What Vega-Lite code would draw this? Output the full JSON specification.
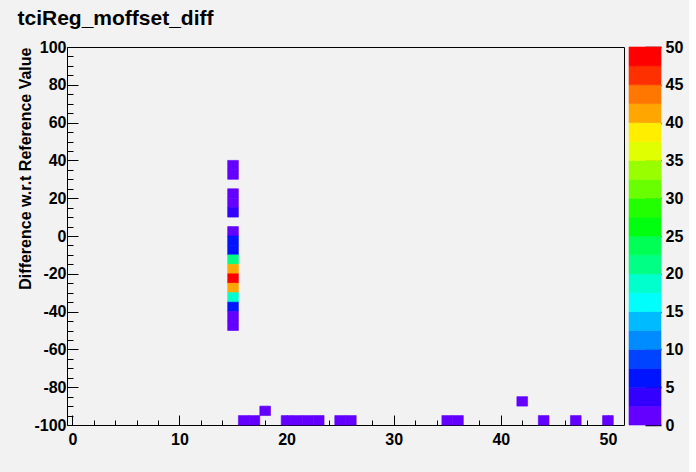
{
  "$schema": "https://vega.github.io/schema/vega-lite/v6.json",
  "background": "#f2f2f2",
  "padding": {"left": 17, "top": 7, "right": 6, "bottom": 25},
  "title": {"text": "tciReg_moffset_diff", "anchor": "start", "font": "Liberation Sans", "fontSize": 21, "fontWeight": "bold", "color": "black", "offset": 10},
  "config": {"view": {"stroke": null}, "font": "Liberation Sans"},
  "spacing": 3,
  "resolve": {"scale": {"y": "independent", "color": "independent", "stroke": "independent"}, "axis": {"y": "independent"}},
  "hconcat": [
    {
      "width": 557,
      "height": 378,
      "view": {"stroke": "black", "strokeWidth": 1},
      "data": {"values": [
        {"xlo": 14.5, "xhi": 15.5, "ylo": 35, "yhi": 40, "z": 1},
        {"xlo": 14.5, "xhi": 15.5, "ylo": 30, "yhi": 35, "z": 1},
        {"xlo": 14.5, "xhi": 15.5, "ylo": 20, "yhi": 25, "z": 1},
        {"xlo": 14.5, "xhi": 15.5, "ylo": 15, "yhi": 20, "z": 1},
        {"xlo": 14.5, "xhi": 15.5, "ylo": 10, "yhi": 15, "z": 3},
        {"xlo": 14.5, "xhi": 15.5, "ylo": 0, "yhi": 5, "z": 1},
        {"xlo": 14.5, "xhi": 15.5, "ylo": -5, "yhi": 0, "z": 6},
        {"xlo": 14.5, "xhi": 15.5, "ylo": -10, "yhi": -5, "z": 6},
        {"xlo": 14.5, "xhi": 15.5, "ylo": -15, "yhi": -10, "z": 21},
        {"xlo": 14.5, "xhi": 15.5, "ylo": -20, "yhi": -15, "z": 41},
        {"xlo": 14.5, "xhi": 15.5, "ylo": -25, "yhi": -20, "z": 49},
        {"xlo": 14.5, "xhi": 15.5, "ylo": -30, "yhi": -25, "z": 41},
        {"xlo": 14.5, "xhi": 15.5, "ylo": -35, "yhi": -30, "z": 19},
        {"xlo": 14.5, "xhi": 15.5, "ylo": -40, "yhi": -35, "z": 6},
        {"xlo": 14.5, "xhi": 15.5, "ylo": -45, "yhi": -40, "z": 1},
        {"xlo": 14.5, "xhi": 15.5, "ylo": -50, "yhi": -45, "z": 1},
        {"xlo": 15.5, "xhi": 16.5, "ylo": -100, "yhi": -95, "z": 1},
        {"xlo": 16.5, "xhi": 17.5, "ylo": -100, "yhi": -95, "z": 1},
        {"xlo": 17.5, "xhi": 18.5, "ylo": -95, "yhi": -90, "z": 1},
        {"xlo": 19.5, "xhi": 20.5, "ylo": -100, "yhi": -95, "z": 1},
        {"xlo": 20.5, "xhi": 21.5, "ylo": -100, "yhi": -95, "z": 1},
        {"xlo": 21.5, "xhi": 22.5, "ylo": -100, "yhi": -95, "z": 1},
        {"xlo": 22.5, "xhi": 23.5, "ylo": -100, "yhi": -95, "z": 1},
        {"xlo": 24.5, "xhi": 25.5, "ylo": -100, "yhi": -95, "z": 1},
        {"xlo": 25.5, "xhi": 26.5, "ylo": -100, "yhi": -95, "z": 1},
        {"xlo": 34.5, "xhi": 35.5, "ylo": -100, "yhi": -95, "z": 1},
        {"xlo": 35.5, "xhi": 36.5, "ylo": -100, "yhi": -95, "z": 1},
        {"xlo": 41.5, "xhi": 42.5, "ylo": -90, "yhi": -85, "z": 1},
        {"xlo": 43.5, "xhi": 44.5, "ylo": -100, "yhi": -95, "z": 1},
        {"xlo": 46.5, "xhi": 47.5, "ylo": -100, "yhi": -95, "z": 1},
        {"xlo": 49.5, "xhi": 50.5, "ylo": -100, "yhi": -95, "z": 1}
      ]},
      "mark": {"type": "rect", "strokeWidth": 0.6},
      "encoding": {
        "x": {"field": "xlo", "type": "quantitative",
          "scale": {"domain": [-0.5, 51.5], "nice": false, "zero": false},
          "axis": {"values": [0,2,4,6,8,10,12,14,16,18,20,22,24,26,28,30,32,34,36,38,40,42,44,46,48,50],
            "title": null, "domain": false, "grid": false, "tickColor": "black", "tickWidth": 1,
            "tickSize": {"condition": {"test": "datum.value % 10 === 0", "value": -10}, "value": -5},
            "labelExpr": "datum.value % 10 === 0 ? '' + datum.value : ''",
            "labelPadding": 16, "labelFont": "Liberation Sans", "labelFontWeight": "bold", "labelFontSize": 16,
            "labelColor": "black", "labelFlush": false, "labelOverlap": false}},
        "x2": {"field": "xhi"},
        "y": {"field": "ylo", "type": "quantitative",
          "scale": {"domain": [-100, 100], "nice": false, "zero": false},
          "axis": {"values": [-100,-95,-90,-85,-80,-75,-70,-65,-60,-55,-50,-45,-40,-35,-30,-25,-20,-15,-10,-5,0,5,10,15,20,25,30,35,40,45,50,55,60,65,70,75,80,85,90,95,100],
            "title": "Difference w.r.t Reference Value", "titleFont": "Liberation Sans", "titleFontWeight": "bold", "titleFontSize": 16,
            "titleColor": "black", "titleAnchor": "end", "titlePadding": 0,
            "domain": false, "grid": false, "tickColor": "black", "tickWidth": 1,
            "tickSize": {"condition": {"test": "datum.value % 20 === 0", "value": -11}, "value": -6},
            "labelExpr": "datum.value % 20 === 0 ? '' + datum.value : ''",
            "labelPadding": 12, "labelFont": "Liberation Sans", "labelFontWeight": "bold", "labelFontSize": 16,
            "labelColor": "black", "labelFlush": false, "labelOverlap": false}},
        "y2": {"field": "yhi"},
        "color": {"field": "z", "type": "quantitative",
          "scale": {"type": "threshold",
            "domain": [2.5,5,7.5,10,12.5,15,17.5,20,22.5,25,27.5,30,32.5,35,37.5,40,42.5,45,47.5],
            "range": ["#6300ff","#3300ff","#0014ff","#0044ff","#008bff","#00bbff","#00fffc","#00ffcc","#00ff85","#00ff55","#00ff0e","#22ff00","#69ff00","#99ff00","#e0ff00","#ffee00","#ffa700","#ff7700","#ff3000","#ff0000"]},
          "legend": null},
        "stroke": {"field": "z", "type": "quantitative",
          "scale": {"type": "threshold",
            "domain": [2.5,5,7.5,10,12.5,15,17.5,20,22.5,25,27.5,30,32.5,35,37.5,40,42.5,45,47.5],
            "range": ["#6300ff","#3300ff","#0014ff","#0044ff","#008bff","#00bbff","#00fffc","#00ffcc","#00ff85","#00ff55","#00ff0e","#22ff00","#69ff00","#99ff00","#e0ff00","#ffee00","#ffa700","#ff7700","#ff3000","#ff0000"]},
          "legend": null}
      }
    },
    {
      "width": 32,
      "height": 378,
      "view": {"stroke": null},
      "data": {"values": [
        {"lo": 0, "hi": 2.5}, {"lo": 2.5, "hi": 5}, {"lo": 5, "hi": 7.5}, {"lo": 7.5, "hi": 10},
        {"lo": 10, "hi": 12.5}, {"lo": 12.5, "hi": 15}, {"lo": 15, "hi": 17.5}, {"lo": 17.5, "hi": 20},
        {"lo": 20, "hi": 22.5}, {"lo": 22.5, "hi": 25}, {"lo": 25, "hi": 27.5}, {"lo": 27.5, "hi": 30},
        {"lo": 30, "hi": 32.5}, {"lo": 32.5, "hi": 35}, {"lo": 35, "hi": 37.5}, {"lo": 37.5, "hi": 40},
        {"lo": 40, "hi": 42.5}, {"lo": 42.5, "hi": 45}, {"lo": 45, "hi": 47.5}, {"lo": 47.5, "hi": 50}
      ]},
      "mark": {"type": "rect", "strokeWidth": 0.6},
      "encoding": {
        "y": {"field": "lo", "type": "quantitative",
          "scale": {"domain": [0, 50], "nice": false, "zero": false},
          "axis": {"orient": "right", "values": [0,5,10,15,20,25,30,35,40,45,50], "title": null,
            "domain": false, "grid": false, "tickColor": "black", "tickWidth": 1.5, "tickSize": -16,
            "labelPadding": 20, "labelFont": "Liberation Sans", "labelFontWeight": "bold", "labelFontSize": 16,
            "labelColor": "black", "labelFlush": false, "labelOverlap": false}},
        "y2": {"field": "hi"},
        "color": {"field": "lo", "type": "quantitative",
          "scale": {"type": "threshold",
            "domain": [2.5,5,7.5,10,12.5,15,17.5,20,22.5,25,27.5,30,32.5,35,37.5,40,42.5,45,47.5],
            "range": ["#6300ff","#3300ff","#0014ff","#0044ff","#008bff","#00bbff","#00fffc","#00ffcc","#00ff85","#00ff55","#00ff0e","#22ff00","#69ff00","#99ff00","#e0ff00","#ffee00","#ffa700","#ff7700","#ff3000","#ff0000"]},
          "legend": null},
        "stroke": {"field": "lo", "type": "quantitative",
          "scale": {"type": "threshold",
            "domain": [2.5,5,7.5,10,12.5,15,17.5,20,22.5,25,27.5,30,32.5,35,37.5,40,42.5,45,47.5],
            "range": ["#6300ff","#3300ff","#0014ff","#0044ff","#008bff","#00bbff","#00fffc","#00ffcc","#00ff85","#00ff55","#00ff0e","#22ff00","#69ff00","#99ff00","#e0ff00","#ffee00","#ffa700","#ff7700","#ff3000","#ff0000"]},
          "legend": null}
      }
    }
  ]
}
